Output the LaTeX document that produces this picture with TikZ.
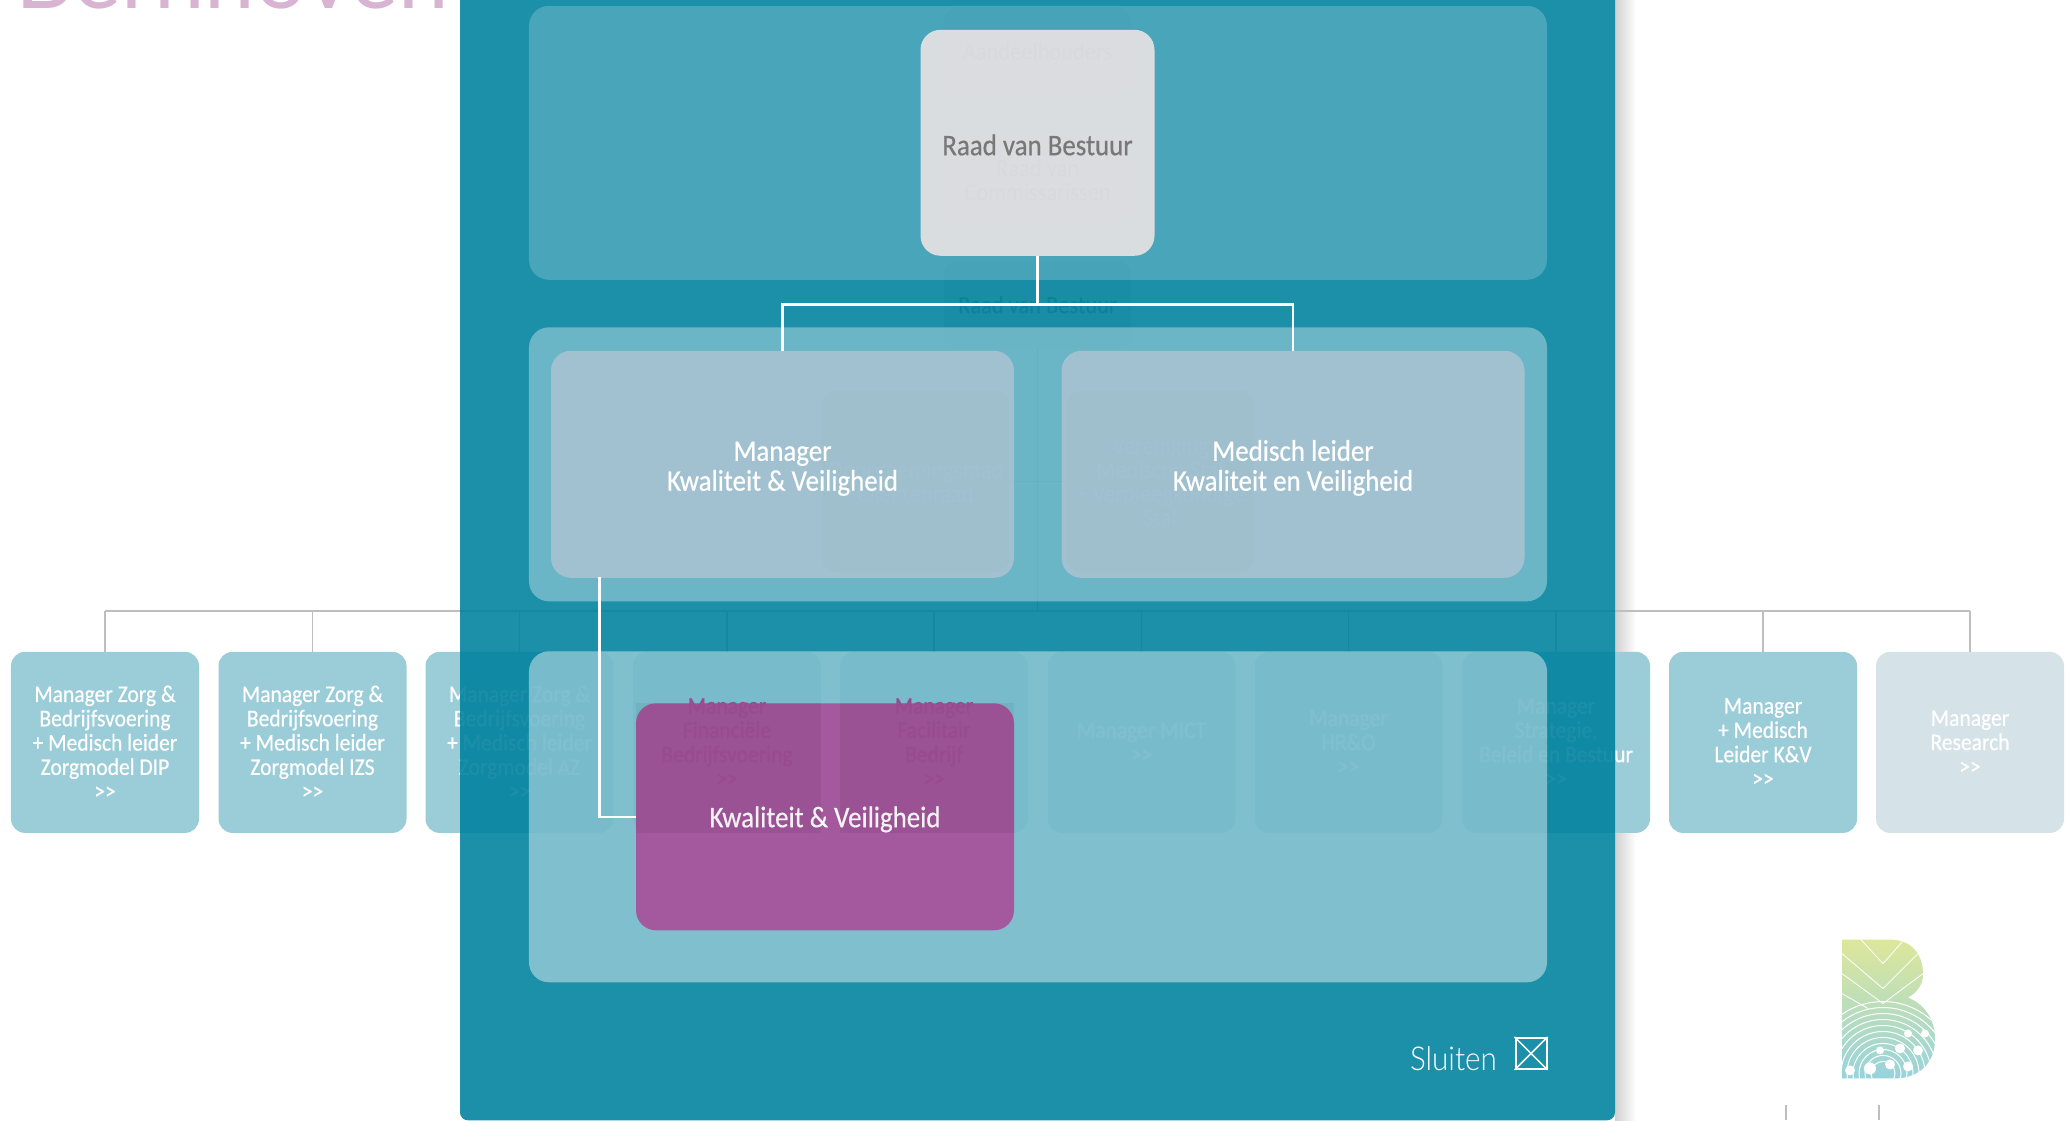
\documentclass[tikz,border=0pt]{standalone}
\usepackage{xcolor}
\usepackage{fontspec}
\newfontfamily\blokfont[FakeStretch=0.9,FakeBold=0.5]{Carlito}
\newfontfamily\lichtfont[FakeStretch=0.9]{Lato Light}
\newfontfamily\titelfont{Lato}
\usepackage{tikz}

\definecolor{kleurteal}{HTML}{00819E}
\definecolor{kleurblok}{HTML}{9ACDD8}
\definecolor{kleurbleek}{HTML}{D5E2E8}
\definecolor{kleurgrijs}{HTML}{BEBEBE}
\definecolor{kleurroze}{HTML}{D9B3D2}
\definecolor{kleurmagenta}{HTML}{A8509A}
\definecolor{kleurpaars}{HTML}{984B90}
\definecolor{kleurgroen}{HTML}{8CC31E}
\definecolor{kleurmanager}{HTML}{C6C9DA}
\definecolor{kleurraad}{HTML}{FFEBE9}
\definecolor{kleurblad}{HTML}{DDE79A}
\definecolor{kleurcel}{HTML}{97D3DD}

\begin{document}
\begin{tikzpicture}[x=1bp, y=-0.9985bp,
    blok/.style={rectangle, rounded corners=14bp, fill=kleurblok, text=white, align=center,
      minimum width=188bp, minimum height=181bp, inner sep=0pt, font=\blokfont\fontsize{24}{24.4}\selectfont},
    oudblok/.style={rectangle, rounded corners=14bp, align=center, minimum width=187bp,
      minimum height=87bp, inner sep=0pt, font=\blokfont\fontsize{25}{24}\selectfont},
    laag/.style={rectangle, rounded corners=20bp, fill=white, minimum width=1018bp, inner sep=0pt},
    hoofdblok/.style={rectangle, rounded corners=20bp, align=center, text=white, text opacity=1, inner sep=0pt,
      font=\blokfont\fontsize{30}{30}\selectfont},
    grijslijn/.style={kleurgrijs, line width=1.5pt},
    witlijn/.style={white, line width=2.5pt}
    ]
    \useasboundingbox (0,0) rectangle (2071,1122);
    \clip (0,0) rectangle (2071,1122);

    \node[anchor=base west, inner sep=0pt, text=kleurroze, font=\fontsize{91}{91}\titelfont] (titel) at (15,9) {Bernhoven};

    \shade[left color=black!18, right color=white] (1615,0) rectangle (1636,1122);

    \node[blok] (zorgdip) at (105,743.5) {Manager Zorg \&\\Bedrijfsvoering\\+ Medisch leider\\Zorgmodel DIP\\>>};
    \node[blok] (zorgizs) at (312.5,743.5) {Manager Zorg \&\\Bedrijfsvoering\\+ Medisch leider\\Zorgmodel IZS\\>>};
    \node[blok] (zorgaz) at (519.5,743.5) {Manager Zorg \&\\Bedrijfsvoering\\+ Medisch leider\\Zorgmodel AZ\\>>};
    \node[blok] (financien) at (727,743.5) {};
    \node[blok] (facilitair) at (934,743.5) {};
    \node[blok] (mict) at (1141.5,743.5) {Manager MICT\\>>};
    \node[blok] (hro) at (1348.5,743.5) {Manager\\HR\&O\\>>};
    \node[blok] (strategie) at (1556,743.5) {Manager\\Strategie,\\Beleid en Bestuur\\>>};
    \node[blok] (leiderkv) at (1763,743.5) {Manager\\+ Medisch\\Leider K\&V\\>>};
    \node[blok, fill=kleurbleek] (research) at (1970,743.5) {Manager\\Research\\>>};

    \node[oudblok, fill=black!8, text=black!70] (aandeel) at (1037.5,51) {Aandeelhouders};
    \node[oudblok, fill=black!8, text=black!70] (rvc) at (1037.5,180) {Raad van\\Commissarissen};
    \node[oudblok, fill=black!8, text=black!50] (rvboud) at (1037.5,305) {Raad van Bestuur};
    \node[oudblok, fill=kleurgroen, text=white, minimum height=182bp] (orraad) at (915.5,482) {Ondernemingsraad\\Cliëntenraad};
    \node[oudblok, fill=kleurgroen, text=white, minimum height=182bp] (vereniging) at (1160.5,482) {Vereniging\\Medische Staf\\+ Verpleegkundige\\Staf};

    \coordinate (splits) at (1037.5,612);
    \draw[kleurgrijs, line width=2.5pt] (zorgdip.north |- splits) -- (research.north |- splits);
    \draw[grijslijn] (zorgdip.north) -- (zorgdip.north |- splits);
    \draw[grijslijn] (zorgizs.north) -- (zorgizs.north |- splits);
    \draw[grijslijn] (zorgaz.north) -- (zorgaz.north |- splits);
    \draw[grijslijn] (financien.north) -- (financien.north |- splits);
    \draw[grijslijn] (facilitair.north) -- (facilitair.north |- splits);
    \draw[grijslijn] (mict.north) -- (mict.north |- splits);
    \draw[grijslijn] (hro.north) -- (hro.north |- splits);
    \draw[grijslijn] (strategie.north) -- (strategie.north |- splits);
    \draw[grijslijn] (leiderkv.north) -- (leiderkv.north |- splits);
    \draw[grijslijn] (research.north) -- (research.north |- splits);
    \draw[grijslijn] (aandeel.south) -- (rvc.north);
    \draw[grijslijn] (rvc.south) -- (rvboud.north);
    \draw[grijslijn] (rvboud.south) -- (splits);
    \draw[grijslijn] (orraad.east) -- (vereniging.west);

    \coordinate (stuba) at (1786,1107);
    \coordinate (stubb) at (1879,1107);
    \coordinate (randa) at (1786,1122);
    \coordinate (randb) at (1879,1122);
    \draw[kleurgrijs, line width=2pt] (stuba) -- (randa);
    \draw[kleurgrijs, line width=2pt] (stubb) -- (randb);

    \begin{scope}
      \clip (1842,941) -- (1890,941) .. controls (1912,941) and (1923,956) .. (1923,976)
        .. controls (1923,986) and (1917,994) .. (1908,999)
        .. controls (1925,1006) and (1935,1021) .. (1935,1041)
        .. controls (1935,1066) and (1917,1080) .. (1895,1080) -- (1842,1080) -- cycle;
      \shade[top color=kleurblad, middle color=kleurroze, bottom color=kleurcel] (1842,941) rectangle (1935,1080);
      \draw[white, line width=1pt] (1883,1075) circle (12) circle (18) circle (24) circle (30) circle (36)
        circle (42) circle (48) circle (54) circle (60) circle (66) circle (72);
      \draw[white, line width=0.8pt] (1842,955) -- (1883,990) -- (1923,950) (1842,975) -- (1883,1005) -- (1923,975)
        (1860,940) -- (1883,965) -- (1905,940) (1842,995) -- (1868,1010);
      \fill[white] (1850,1072) circle (5) (1870,1070) circle (6) (1890,1066) circle (5) (1908,1068) circle (5)
        (1900,1050) circle (5) (1918,1052) circle (5) (1925,1035) circle (4) (1908,1035) circle (4) (1880,1052) circle (4);
    \end{scope}

    \fill[kleurteal, opacity=0.89, rounded corners=8bp] (460,-30) rectangle (1615,1122);

    \node[laag, opacity=0.2, minimum height=274bp] (laagboven) at (1038,143) {};
    \node[laag, opacity=0.35, minimum height=274bp] (laagmidden) at (1038,465) {};
    \node[laag, opacity=0.44, minimum height=331bp] (laagonder) at (1038,818) {};

    \node[hoofdblok, fill=kleurraad, fill opacity=0.8, text=black!53, minimum width=234bp, minimum height=226bp] (rvb) at (1037.5,143) {\rule{0pt}{25bp}Raad van Bestuur};
    \node[hoofdblok, fill=kleurmanager, fill opacity=0.6, minimum width=463bp, minimum height=227bp] (manager) at (782.5,465) {\rule{0pt}{28bp}Manager\\Kwaliteit \& Veiligheid};
    \node[hoofdblok, fill=kleurmanager, fill opacity=0.6, minimum width=463bp, minimum height=227bp] (leider) at (1293,465) {\rule{0pt}{28bp}Medisch leider\\Kwaliteit en Veiligheid};
    \node[hoofdblok, fill=kleurmagenta, fill opacity=0.93, minimum width=378bp, minimum height=227bp] (kwaliteit) at (825,818) {\rule{0pt}{26bp}Kwaliteit \& Veiligheid};

    \begin{scope}
      \clip (kwaliteit.north west) rectangle (kwaliteit.south east);
      \fill[black, opacity=0.05] (financien.north west) rectangle (financien.south east);
      \fill[black, opacity=0.05] (facilitair.north west) rectangle (facilitair.south east);
    \end{scope}
    \node[blok, fill=none, text=kleurpaars, minimum width=0pt, minimum height=0pt] (financientekst) at (financien.center) {Manager\\Financiële\\Bedrijfsvoering\\>>};
    \node[blok, fill=none, text=kleurpaars, minimum width=0pt, minimum height=0pt] (facilitairtekst) at (facilitair.center) {Manager\\Facilitair\\Bedrijf\\>>};

    \coordinate (tak) at (1037.5,305);
    \coordinate (voet) at (599.5,578);
    \draw[witlijn] (rvb.south) -- (tak);
    \draw[witlijn] (manager.north) |- (tak) -| (leider.north);
    \draw[witlijn] (voet) |- (kwaliteit.west);

    \node[anchor=east, inner sep=0pt, text=white, font=\lichtfont\fontsize{33}{36}\selectfont] (sluiten) at (1497,1060) {Sluiten};
    \node[rectangle, draw=white, line width=2pt, minimum size=31bp, inner sep=0pt] (kruis) at (1531,1055) {};
    \draw[white, line width=1.5pt] (kruis.north west) -- (kruis.south east);
    \draw[white, line width=1.5pt] (kruis.north east) -- (kruis.south west);
  \end{tikzpicture}
\end{document}
